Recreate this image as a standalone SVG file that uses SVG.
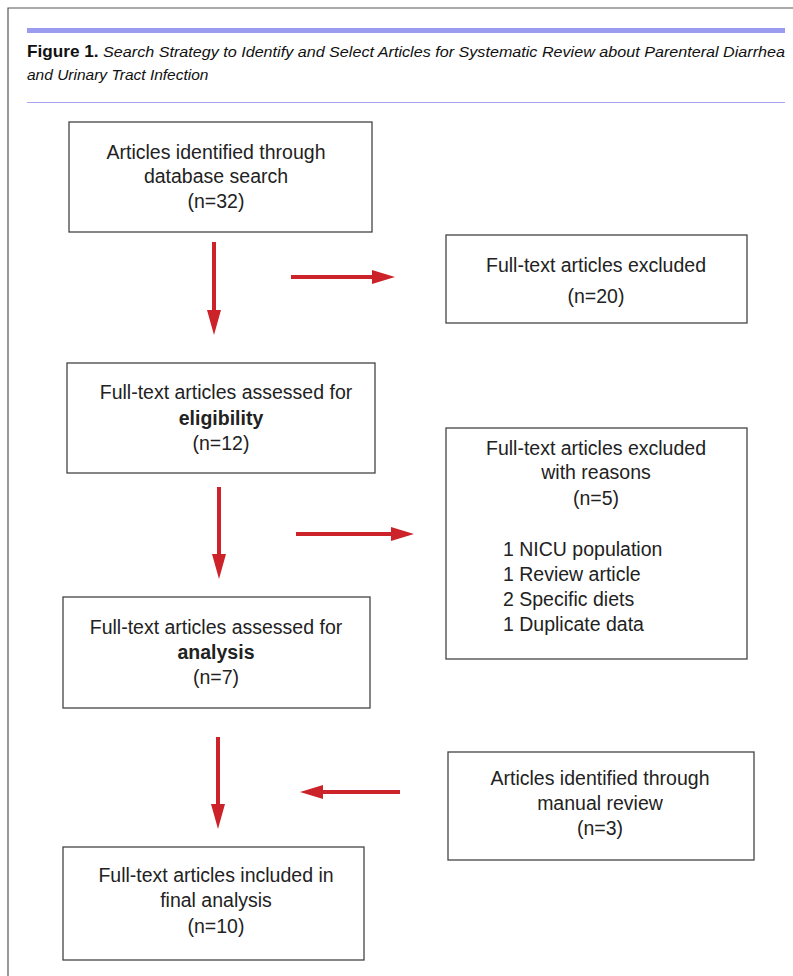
<svg xmlns="http://www.w3.org/2000/svg" width="793" height="976" viewBox="0 0 793 976">
<style>
.box{fill:#fff;stroke:#444;stroke-width:1.3}
.t{font-family:"Liberation Sans",Arial,sans-serif;font-size:19.5px;fill:#222;text-anchor:middle}
.l{text-anchor:start}
.b{font-weight:bold}
.cap{font-family:"Liberation Sans",Arial,sans-serif;font-size:15.5px;fill:#111}
.arr{fill:#cc2229}
</style>
<rect width="793" height="976" fill="#fff"/>
<path d="M8 976 V8 H793" fill="none" stroke="#555" stroke-width="1.2"/>
<rect x="27" y="28" width="758" height="5" fill="#9b9bf0"/>
<text class="cap" x="27" y="57" textLength="758" lengthAdjust="spacingAndGlyphs"><tspan font-weight="bold" font-size="16.5">Figure 1.</tspan><tspan font-style="italic"> Search Strategy to Identify and Select Articles for Systematic Review about Parenteral Diarrhea</tspan></text>
<text class="cap" x="27" y="80" font-style="italic">and Urinary Tract Infection</text>
<rect x="27" y="102" width="758" height="1" fill="#a6a6f0"/>

<g id="n1"><rect class="box" x="69" y="122" width="303" height="110"/>
<text class="t" x="216" y="159">Articles identified through</text>
<text class="t" x="216" y="183">database search</text>
<text class="t" x="216" y="208">(n=32)</text></g>

<g id="n2"><rect class="box" x="446" y="235" width="301" height="88"/>
<text class="t" x="596" y="272">Full-text articles excluded</text>
<text class="t" x="596" y="303">(n=20)</text></g>

<g id="n3"><rect class="box" x="67" y="363" width="308" height="110"/>
<text class="t" x="226" y="399">Full-text articles assessed for</text>
<text class="t b" x="221" y="425">eligibility</text>
<text class="t" x="221" y="450">(n=12)</text></g>

<g id="n4"><rect class="box" x="446" y="428" width="301" height="231"/>
<text class="t" x="596" y="455">Full-text articles excluded</text>
<text class="t" x="596" y="479">with reasons</text>
<text class="t" x="596" y="505">(n=5)</text>
<text class="t l" x="503" y="556">1 NICU population</text>
<text class="t l" x="503" y="581">1 Review article</text>
<text class="t l" x="503" y="606">2 Specific diets</text>
<text class="t l" x="503" y="631">1 Duplicate data</text></g>

<g id="n5"><rect class="box" x="63" y="597" width="307" height="111"/>
<text class="t" x="216" y="634">Full-text articles assessed for</text>
<text class="t b" x="216" y="659">analysis</text>
<text class="t" x="216" y="684">(n=7)</text></g>

<g id="n6"><rect class="box" x="448" y="752" width="306" height="108"/>
<text class="t" x="600" y="785">Articles identified through</text>
<text class="t" x="600" y="810">manual review</text>
<text class="t" x="600" y="835">(n=3)</text></g>

<g id="n7"><rect class="box" x="63" y="847" width="301" height="113"/>
<text class="t" x="216" y="882">Full-text articles included in</text>
<text class="t" x="216" y="907">final analysis</text>
<text class="t" x="216" y="933">(n=10)</text></g>

<g id="connectors">
<polygon class="arr" points="212,242 216,242 216,310 221,310 214,335 207,310 212,310"/>
<polygon class="arr" points="291,275 372,275 372,270 395,277 372,284 372,279 291,279"/>
<polygon class="arr" points="217,487 221,487 221,554 226,554 219,579 212,554 217,554"/>
<polygon class="arr" points="296,532 391,532 391,527 414,534 391,541 391,536 296,536"/>
<polygon class="arr" points="216,737 220,737 220,804 225,804 218,829 211,804 216,804"/>
<polygon class="arr" points="400,790 323,790 323,785 300,792 323,799 323,794 400,794"/>
</g>
</svg>
